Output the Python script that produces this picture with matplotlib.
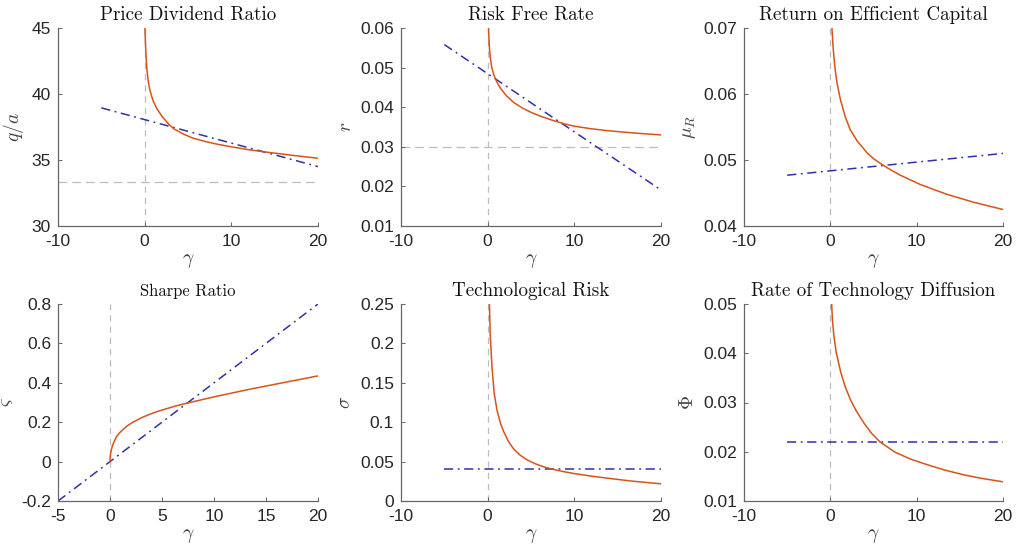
import matplotlib
matplotlib.use("Agg")
import matplotlib.pyplot as plt
from matplotlib.ticker import FuncFormatter

plt.rcParams['font.family'] = ['Liberation Sans', 'DejaVu Sans']
plt.rcParams['mathtext.fontset'] = 'cm'
plt.rcParams['axes.unicode_minus'] = False

# blue dash-dot lines: endpoints at gamma = -5 and 20
blue_gamma = [-5, 20]

# Price dividend ratio
pd_gamma = [0.03, 0.08, 0.15, 0.25, 0.4, 0.6, 0.96, 1.4, 2, 2.8, 3.4, 4.5, 5.6, 7, 8.5, 10, 12, 14, 17, 20]
pd_red = [45, 44, 43, 41.9, 41.0, 40.3, 39.5, 38.9, 38.3, 37.7, 37.35, 36.95, 36.65, 36.4, 36.18, 36.0,
          35.78, 35.6, 35.36, 35.13]
pd_blue = [38.95, 34.5]
pd_hline = 33.33

# Risk free rate
rf_gamma = [0.1, 0.15, 0.22, 0.3, 0.4, 0.5, 0.77, 1.1, 1.5, 2.2, 3, 4, 4.9, 6, 7.6, 8.85, 10, 11.8, 13.7,
            15.7, 18, 20]
rf_red = [0.06, 0.0572, 0.0545, 0.0527, 0.051, 0.0498, 0.0478, 0.0462, 0.0447, 0.0428, 0.0412, 0.0398,
          0.0388, 0.0378, 0.0366, 0.0358, 0.0352, 0.0346, 0.0341, 0.0337, 0.0333, 0.033]
rf_blue = [0.0558, 0.0191]
rf_hline = 0.03

# Return on efficient capital
rec_gamma = [0.19, 0.28, 0.39, 0.55, 0.77, 1.16, 1.74, 2.3, 3.1, 4.25, 5, 6, 7, 8.1, 10.4, 13.5, 16.6, 20]
rec_red = [0.07, 0.0678, 0.066, 0.0638, 0.0617, 0.0592, 0.0565, 0.0546, 0.0529, 0.0511, 0.0502, 0.0493,
           0.0485, 0.0477, 0.0463, 0.0448, 0.0436, 0.0425]
rec_blue = [0.0477, 0.0510]

# Sharpe ratio
sr_gamma = [0, 0.02, 0.06, 0.12, 0.22, 0.35, 0.61, 0.9, 1.25, 1.7, 2.2, 3, 3.8, 4.6, 5.4, 6.3, 7.34, 10.2,
            13.4, 16.6, 20]
sr_red = [0, 0.025, 0.042, 0.058, 0.078, 0.096, 0.125, 0.145, 0.163, 0.183, 0.2, 0.222, 0.24, 0.255, 0.268,
          0.282, 0.296, 0.331, 0.367, 0.4, 0.435]
sr_blue = [-0.2, 0.8]

# Technological risk
tr_gamma = [0.2, 0.3, 0.5, 0.75, 1.08, 1.5, 1.85, 2.4, 3, 3.7, 4.5, 5.5, 6.5, 7.6, 8.7, 9.9, 11.8, 13.8,
            16.5, 20]
tr_red = [0.25, 0.21, 0.17, 0.137, 0.115, 0.098, 0.088, 0.0755, 0.066, 0.0585, 0.0525, 0.0472, 0.0432,
          0.04, 0.0374, 0.035, 0.0318, 0.029, 0.0254, 0.0218]
tr_blue = [0.04, 0.04]

# Rate of technology diffusion
td_gamma = [0.15, 0.25, 0.42, 0.7, 1.2, 1.7, 2.35, 3, 3.9, 4.8, 5.75, 7.5, 9.3, 11, 13.2, 15.5, 17.5, 20]
td_red = [0.05, 0.0466, 0.0434, 0.04, 0.0362, 0.0333, 0.0305, 0.0283, 0.0258, 0.0237, 0.022, 0.0199,
          0.0185, 0.0175, 0.0163, 0.0153, 0.0146, 0.0139]
td_blue = [0.022, 0.022]

RED = '#D95319'
BLUE = '#3030A8'
GREY = '#BDBDBD'

panels = [
    dict(title='Price Dividend Ratio', ylabel=r'$q/a$', gx=pd_gamma, red=pd_red, blue=pd_blue,
         hline=pd_hline, xlim=(-10, 20), xticks=[-10, 0, 10, 20], ylim=(30, 45), yticks=[30, 35, 40, 45], tsize=13.7),
    dict(title='Risk Free Rate', ylabel=r'$r$', gx=rf_gamma, red=rf_red, blue=rf_blue,
         hline=rf_hline, xlim=(-10, 20), xticks=[-10, 0, 10, 20], ylim=(0.01, 0.06),
         yticks=[0.01, 0.02, 0.03, 0.04, 0.05, 0.06], tsize=13.7),
    dict(title='Return on Efficient Capital', ylabel=r'$\mu_R$', gx=rec_gamma, red=rec_red, blue=rec_blue,
         hline=None, xlim=(-10, 20), xticks=[-10, 0, 10, 20], ylim=(0.04, 0.07),
         yticks=[0.04, 0.05, 0.06, 0.07], tsize=13.7),
    dict(title='Sharpe Ratio', ylabel=r'$\varsigma$', gx=sr_gamma, red=sr_red, blue=sr_blue,
         hline=None, xlim=(-5, 20), xticks=[-5, 0, 5, 10, 15, 20], ylim=(-0.2, 0.8),
         yticks=[-0.2, 0, 0.2, 0.4, 0.6, 0.8], tsize=12),
    dict(title='Technological Risk', ylabel=r'$\sigma$', gx=tr_gamma, red=tr_red, blue=tr_blue,
         hline=None, xlim=(-10, 20), xticks=[-10, 0, 10, 20], ylim=(0, 0.25),
         yticks=[0, 0.05, 0.1, 0.15, 0.2, 0.25], tsize=13.7),
    dict(title='Rate of Technology Diffusion', ylabel=r'$\Phi$', gx=td_gamma, red=td_red, blue=td_blue,
         hline=None, xlim=(-10, 20), xticks=[-10, 0, 10, 20], ylim=(0.01, 0.05),
         yticks=[0.01, 0.02, 0.03, 0.04, 0.05], tsize=13.7),
]

W, H = 1017, 557
fig = plt.figure(figsize=(W / 100, H / 100), dpi=100)

lefts = [58, 401, 744]
widths = [260, 260, 259]
tops = [28, 304]
heights = [198, 197]

fmt = FuncFormatter(lambda v, p: '%g' % round(v, 6))

for i, p in enumerate(panels):
    r, c = divmod(i, 3)
    ax = fig.add_axes([lefts[c] / W, 1 - (tops[r] + heights[r]) / H, widths[c] / W, heights[r] / H])
    ax.axvline(0, color=GREY, ls=(0, (5, 4)), lw=0.9, zorder=1)
    if p['hline'] is not None:
        ax.axhline(p['hline'], color=GREY, ls=(0, (7, 4)), lw=0.9, zorder=1)
    ax.plot(p['gx'], p['red'], color=RED, lw=1.1, zorder=3)
    ax.plot(blue_gamma, p['blue'], color=BLUE, lw=1.1, ls=(0, (6, 3, 1.2, 3)), zorder=2)
    ax.set_xlim(*p['xlim'])
    ax.set_ylim(*p['ylim'])
    ax.set_xticks(p['xticks'])
    ax.set_yticks(p['yticks'])
    ax.xaxis.set_major_formatter(fmt)
    ax.yaxis.set_major_formatter(fmt)
    for s in ['top', 'right']:
        ax.spines[s].set_visible(False)
    for s in ['left', 'bottom']:
        ax.spines[s].set_color('#666666')
        ax.spines[s].set_linewidth(0.9)
    ax.tick_params(direction='in', length=3, width=0.7, color='#666666', labelsize=12.5,
                   labelcolor='#262626')
    ax.tick_params(axis='x', pad=6)
    ax.tick_params(axis='y', pad=5)
    ax.set_title(p['title'], family='cmr10', fontsize=p['tsize'], color='#111111', pad=6)
    ax.set_xlabel(r'$\gamma$', fontsize=14, color='#444444', labelpad=2)
    ax.set_ylabel(p['ylabel'], fontsize=14, color='#444444', labelpad=4)

fig.savefig('out.png', dpi=100)
